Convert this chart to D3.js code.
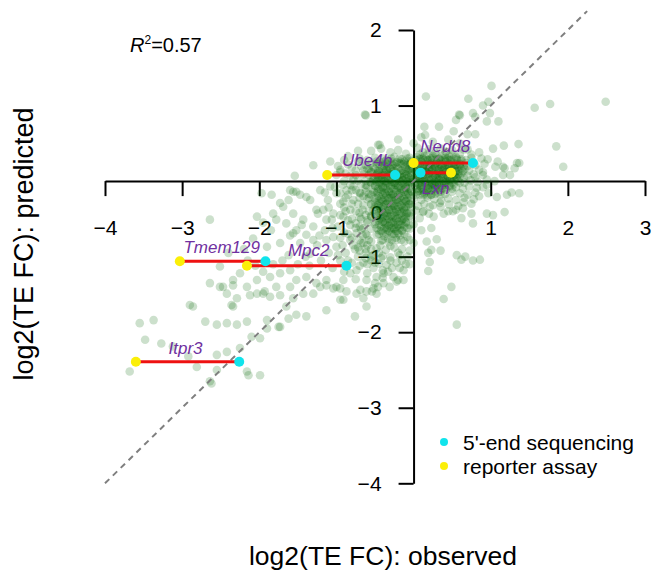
<!DOCTYPE html>
<html>
<head>
<meta charset="utf-8">
<script src="https://cdn.jsdelivr.net/npm/d3@7"></script>
<style>
  body { margin: 0; background: #fff; }
  svg { font-family: "Liberation Sans", Arial, sans-serif; }
  .axis .domain, .axis line { stroke: #000; stroke-width: 2; }
  .axis text { font-size: 21px; fill: #000; font-family: "Liberation Sans", Arial, sans-serif; }
  .gene-label { font-size: 17px; font-style: italic; fill: #7030a0; }
</style>
</head>
<body>
<div id="chart"></div>
<script>
// tick values
const xTicks = [-4, -3, -2, -1, 1, 2, 3];
const yTicks = [-4, -3, -2, -1, 1, 2];

// genes checked by 5'-end sequencing / reporter assay: [observed(seq), observed(reporter), predicted]
const genes = ['Ube4b', 'Nedd8', 'Lxn', 'Tmem129', 'Mpc2', 'Itpr3'];
const seqObserved = [-0.24, 0.77, 0.09, -1.92, -0.87, -2.26];
const reporterObserved = [-1.12, 0.0, 0.485, -3.03, -2.16, -3.6];
const genePredicted = [0.08, 0.24, 0.11, -1.06, -1.12, -2.39];

// scatter points [observed, predicted]
const upperPoints = [
  [1.01,1.26],[0.16,1.12],[0.71,1.09],[-0.62,0.87],[1.57,0.97],[1.77,1.02],[2.49,1.05],[0.90,1.00],
  [0.97,1.05],[0.99,0.90],[0.60,0.87],[0.80,0.85],[0.95,0.79],[1.10,0.79],[0.55,0.81],[0.14,0.72],
  [0.33,0.72],[-0.44,0.48],[1.03,0.43],[1.17,0.47],[1.36,0.49],[1.85,0.46],[0.15,0.61],[0.80,0.62],
  [0.59,0.88],[0.77,0.90],[-0.20,0.55],[0.00,0.50],[0.10,0.58],[0.25,0.52],[0.45,0.55],[0.60,0.50],
  [0.70,0.62],[0.52,0.66],[-1.30,0.21],[-1.08,0.26],[-1.54,0.07],[-0.63,0.88],[-0.46,0.48],
  [-0.95,0.12],[-0.85,0.33],[-0.72,0.40]
];
const rightPoints = [
  [1.94,0.19],[1.37,0.24],[1.16,0.19],[1.25,0.08],[1.16,0.08],[0.96,0.29],[1.09,0.26],[1.06,0.19],
  [1.18,0.17],[1.34,0.24],[1.31,0.17],[1.27,-0.15],[1.37,-0.16],[1.21,-0.18],[1.08,-0.21],[0.97,-0.16],
  [0.95,-0.43],[1.03,-0.45],[1.18,-0.41],[0.77,-0.56],[0.62,-0.49],[0.75,-0.43],[0.64,-0.36],[0.51,-0.40],
  [0.39,-0.43],[0.26,-0.47],[0.13,-0.40],[0.21,-0.34],[0.34,-0.29],[0.23,-0.62],[0.17,-0.80],[0.30,-0.77],
  [0.19,-0.95],[0.23,-0.91],[0.35,-0.92],[0.21,-1.07],[0.19,-1.19],[0.56,-0.98],[0.62,-1.04],[0.67,-1.00],
  [0.77,-1.05],[0.86,-1.04],[0.49,-1.40],[0.39,-1.56],[0.56,-1.90],[-0.05,-0.78],[-0.13,-1.18],[-0.20,-1.31]
];
const leftBandPoints = [
  [-1.97,-0.16],[-1.84,-0.18],[-1.73,-0.29],[-1.62,-0.25],[-1.52,-0.14],[-1.39,-0.21],[-1.21,-0.12],
  [-1.11,-0.25],[-1.17,-0.38],[-1.24,-0.43],[-1.06,-0.51],[-0.95,-0.45],[-2.03,-0.47],[-1.82,-0.43],
  [-2.64,-0.51],[-2.08,-0.76],[-1.90,-0.87],[-1.73,-0.82],[-1.56,-0.69],[-1.47,-0.82],[-1.34,-0.96],
  [-1.30,-0.78],[-1.60,-0.12],[-1.47,-0.18],[-1.34,-0.25],[-1.26,-0.38],[-1.00,-0.16],[-0.91,-0.27],
  [-1.69,-0.34],[-1.56,-0.43],[-1.43,-0.51],[-1.30,-0.60],[-1.52,-0.65],[-1.39,-0.71],[-1.65,-0.56],
  [-1.78,-0.51],[-1.13,-0.51],[-1.04,-0.43],[-0.91,-0.47],[-0.82,-0.38],[-0.78,-0.25],[-0.69,-0.16],
  [-0.87,-0.12],[-1.13,-0.78],[-1.04,-0.74],[-1.00,-0.87],[-0.82,-0.78],[-0.74,-0.69],[-0.65,-0.82],
  [-1.56,-0.14],[-1.08,-0.07],[-0.98,-0.60],[-0.90,-0.68],[-0.82,-0.58],[-0.76,-0.90],[-0.88,-0.95],
  [-0.95,-1.05],[-0.80,-1.08],[-0.72,-1.00],[-0.68,-0.50],[-0.75,-0.40],[-1.10,-0.95],[-1.20,-1.05],
  [-1.05,-1.15],[-0.90,-1.20],[-1.25,-0.85],[-1.40,-1.00],[-1.50,-1.10],[-1.35,-1.12],[-1.62,-0.98],
  [-1.70,-1.05],[-1.82,-1.10],[-1.95,-1.20],[-2.05,-1.12],[-1.15,-0.65],[-1.22,-0.72],[-1.45,-0.58],
  [-1.60,-0.72],[-1.85,-0.65],[-1.95,-0.55],[-2.20,-0.90],[-2.40,-0.95],[-2.15,-1.05],
  [-0.95,-0.30],[-0.88,-0.40],[-0.80,-0.50],[-0.70,-0.60],[-0.62,-0.70],[-0.85,-0.70],[-0.78,-0.85],
  [-0.68,-0.82],[-0.92,-0.85],[-0.98,-0.98],[-0.85,-1.05],[-0.70,-1.12],[-0.60,-1.22],[-0.75,-1.30],
  [-0.52,-1.15],[-0.88,-0.22],[-0.80,-0.12],[-0.72,-0.30],
  [-0.62,-0.05],[-0.70,-0.22],[-0.66,-0.38],[-0.60,-0.52],[-0.65,-0.62],[-0.58,-0.78],[-0.55,-0.90],
  [-0.70,-0.92],[-0.62,-1.02],[-0.50,-1.08],[-0.40,-1.18],[-0.28,-1.15],[-0.15,-1.05],[-0.05,-1.10],
  [-0.82,-0.05],[-0.75,0.08],[-0.68,0.20],[-0.60,0.28],[-0.55,0.12]
];
const midLeftPoints = [
  [-2.51,-1.13],[-2.34,-1.31],[-2.51,-1.40],[-2.42,-1.49],[-2.25,-1.22],[-2.16,-1.40],[-2.03,-1.31],
  [-2.29,-1.55],[-2.12,-1.51],[-1.95,-1.49],[-2.64,-1.35],[-2.47,-1.40],[-2.34,-1.38],[-2.03,-1.49],
  [-1.93,-1.46],[-1.86,-1.53],[-1.73,-1.51],[-1.60,-1.40],[-1.56,-1.55],[-1.43,-1.49],[-1.30,-1.49],
  [-1.21,-1.40],[-1.13,-1.38],[-1.04,-1.42],[-0.95,-1.42],[-0.87,-1.46],[-0.95,-1.57],[-0.74,-1.49],
  [-0.61,-1.46],[-0.52,-1.42],[-0.39,-1.35],[-0.22,-1.33],[-1.86,-1.27],[-1.73,-1.22],[-1.60,-1.18],
  [-1.78,-1.40],[-1.52,-1.31],[-1.39,-1.27],[-1.26,-1.35],[-1.13,-1.31],[-1.00,-1.40],[-0.91,-1.31],
  [-0.82,-1.22],[-0.74,-1.18],[-0.61,-1.31],[-0.48,-1.27],[-0.39,-1.22],[-0.26,-1.27],[-0.31,-1.40],
  [-0.13,-1.31],[-0.69,-1.44],[-0.48,-1.49],[-0.33,-1.20],[-0.46,-1.40],[-0.54,-1.46],[-0.65,-1.55],
  [-0.91,-1.57],[-0.61,-1.66]
];
const lowerLeftPoints = [
  [-2.86,-1.66],[-2.34,-1.66],[-3.55,-1.88],[-3.37,-1.84],[-2.55,-1.90],[-2.42,-1.88],[-2.29,-1.90],
  [-2.16,-1.86],[-1.90,-1.84],[-1.73,-1.93],[-1.52,-1.77],[-1.39,-1.79],[-1.65,-1.66],[-3.27,-2.15],
  [-3.12,-2.19],[-2.55,-2.30],[-2.42,-2.26],[-2.25,-2.21],[-3.68,-2.52],[-2.16,-2.52],[-1.99,-2.57],
  [-3.48,-2.10],[-2.90,-1.64],[-2.70,-1.86],[-2.36,-1.64],[-2.10,-2.06],[-1.99,-2.08],[-1.90,-1.95],
  [-1.75,-1.93],[-1.62,-1.82],[-1.13,-1.71],[-0.76,-1.79],[-2.81,-2.46],[-2.55,-2.50],[-2.14,-2.57],
  [-2.64,-2.65],[-2.92,-2.32],[-2.62,-2.68]
];
const corePoints = [
  [-0.55,0.4],[-0.42,0.43],[-0.3,0.38],[-0.2,0.41],[-0.1,0.36],[0.05,0.44],[0.12,0.38],[0.2,0.42],[0.28,0.37],
  [0.35,0.43],[0.42,0.39],[0.5,0.41],[0.6,0.36],[0.7,0.42],[0.85,0.38],
  [-0.7,0.3],[-0.5,0.31],[-0.35,0.28],[-0.25,0.32],[-0.15,0.29],[-0.05,0.31],[0.08,0.3],[0.18,0.28],[0.25,0.33],
  [0.33,0.29],[0.41,0.31],[0.48,0.28],[0.55,0.32],[0.62,0.29],[0.75,0.31],[0.88,0.3],
  [-0.85,0.22],[-0.62,0.21],[-0.48,0.23],[-0.38,0.2],[-0.28,0.22],[-0.18,0.24],[-0.08,0.21],[0.03,0.23],[0.14,0.2],
  [0.22,0.22],[0.3,0.24],[0.38,0.21],[0.46,0.23],[0.53,0.2],[0.6,0.22],[0.68,0.24],[0.8,0.21],[0.92,0.23],
  [-0.95,0.15],[-0.75,0.14],[-0.58,0.16],[-0.45,0.13],[-0.35,0.15],[-0.26,0.17],[-0.16,0.14],[-0.06,0.16],[0.06,0.15],
  [0.16,0.13],[0.24,0.16],[0.32,0.14],[0.4,0.17],[0.5,0.15],[0.58,0.13],[0.66,0.16],[0.72,0.14],[0.85,0.15],
  [-1.0,0.08],[-0.82,0.07],[-0.65,0.09],[-0.52,0.06],[-0.42,0.08],[-0.32,0.1],[-0.2,0.07],[-0.1,0.09],[0.02,0.06],
  [0.12,0.08],[0.2,0.1],[0.28,0.07],[0.36,0.09],[0.44,0.06],[0.54,0.08],[0.62,0.1],[0.7,0.07],[0.78,0.09],[0.9,0.08],
  [-0.9,0.0],[-0.72,0.01],[-0.56,-0.01],[-0.46,0.02],[-0.36,0.0],[-0.25,-0.02],[-0.14,0.01],[-0.04,-0.01],[0.06,0.02],
  [0.15,0.0],[0.24,-0.02],[0.33,0.01],[0.42,-0.01],[0.5,0.02],[0.58,0.0],[0.66,-0.02],[0.74,0.01],[0.83,-0.01],
  [0.95,0.02],[1.05,0.0],
  [-1.02,-0.08],[-0.78,-0.07],[-0.62,-0.09],[-0.5,-0.06],[-0.4,-0.08],[-0.3,-0.1],[-0.2,-0.07],[-0.1,-0.09],
  [0.02,-0.06],[0.1,-0.08],[0.19,-0.1],[0.28,-0.07],[0.37,-0.09],[0.46,-0.06],[0.55,-0.08],[0.64,-0.1],[0.72,-0.07],
  [0.82,-0.09],[0.9,-0.08],
  [-0.95,-0.16],[-0.7,-0.15],[-0.58,-0.17],[-0.47,-0.14],[-0.37,-0.16],[-0.27,-0.18],[-0.17,-0.15],[-0.07,-0.17],
  [0.05,-0.14],[0.14,-0.16],[0.23,-0.18],[0.32,-0.15],[0.41,-0.17],[0.5,-0.14],[0.6,-0.16],[0.7,-0.18],[0.8,-0.15],
  [-0.6,-0.24],[-0.5,-0.23],[-0.4,-0.25],[-0.3,-0.22],[-0.2,-0.24],[-0.1,-0.26],[0.0,-0.23],[0.1,-0.25],[0.18,-0.22],
  [0.27,-0.24],[0.36,-0.26],[0.45,-0.23],[0.55,-0.25],[0.66,-0.22],[0.78,-0.24],
  [-0.65,-0.32],[-0.55,-0.31],[-0.45,-0.33],[-0.35,-0.3],[-0.25,-0.32],[-0.15,-0.34],[-0.05,-0.31],[0.06,-0.33],
  [0.14,-0.3],[0.25,-0.32],[0.35,-0.34],[0.46,-0.31],[0.58,-0.33],
  [-0.58,-0.4],[-0.48,-0.39],[-0.38,-0.41],[-0.28,-0.38],[-0.18,-0.4],[-0.08,-0.42],[0.03,-0.39],[0.12,-0.41],[0.2,-0.43],
  [-0.7,-0.48],[-0.55,-0.47],[-0.44,-0.49],[-0.34,-0.46],[-0.24,-0.48],[-0.14,-0.5],[-0.04,-0.47],[0.08,-0.49],
  [-0.75,-0.56],[-0.6,-0.55],[-0.5,-0.57],[-0.4,-0.54],[-0.3,-0.56],[-0.2,-0.58],[-0.1,-0.55],[0.0,-0.57],
  [-0.68,-0.64],[-0.55,-0.63],[-0.45,-0.65],[-0.35,-0.62],[-0.25,-0.64],[-0.15,-0.66],[-0.05,-0.63],[0.1,-0.65],
  [-0.6,-0.72],[-0.48,-0.71],[-0.38,-0.73],[-0.28,-0.7],[-0.18,-0.72],[-0.08,-0.74],
  [-0.55,-0.8],[-0.42,-0.79],[-0.32,-0.81],[-0.22,-0.78],[-0.12,-0.8],[0.0,-0.82],
  [-0.62,-0.9],[-0.48,-0.89],[-0.36,-0.91],[-0.25,-0.88],[-0.15,-0.9],[-0.05,-0.92],
  [-0.55,-1.0],[-0.4,-0.99],[-0.3,-1.01],[-0.18,-0.98],[-0.08,-1.0],
  [-0.6,-1.1],[-0.45,-1.09],[-0.35,-1.11],[-0.22,-1.08],[-0.1,-1.1]
];
const denseCorePoints = [
  [-0.44,0.26],[-0.33,0.27],[-0.22,0.25],[-0.12,0.26],[-0.03,0.27],
  [-0.52,0.18],[-0.41,0.19],[-0.31,0.17],[-0.21,0.18],[-0.11,0.19],[-0.02,0.17],
  [-0.47,0.1],[-0.37,0.11],[-0.27,0.09],[-0.15,0.1],[-0.05,0.11],
  [-0.52,0.03],[-0.41,0.04],[-0.3,0.02],[-0.19,0.03],[-0.09,0.04],[-0.01,0.02],
  [-0.45,-0.04],[-0.35,-0.03],[-0.24,-0.05],[-0.14,-0.04],[-0.05,-0.03],
  [-0.52,-0.12],[-0.42,-0.11],[-0.32,-0.13],[-0.22,-0.12],[-0.12,-0.11],[-0.03,-0.13],
  [-0.45,-0.2],[-0.35,-0.19],[-0.25,-0.21],[-0.15,-0.2],[-0.05,-0.19],
  [-0.5,-0.28],[-0.4,-0.27],[-0.3,-0.29],[-0.2,-0.28],[-0.1,-0.27],
  [-0.43,-0.36],[-0.33,-0.35],[-0.23,-0.37],[-0.13,-0.36],[-0.03,-0.35],
  [-0.5,-0.44],[-0.39,-0.43],[-0.29,-0.45],[-0.19,-0.44],[-0.09,-0.43],
  [-0.45,-0.52],[-0.35,-0.51],[-0.25,-0.53],[-0.15,-0.52],
  [-0.42,-0.6],[-0.32,-0.59],[-0.22,-0.61],[-0.12,-0.6],
  [-0.4,-0.68],[-0.3,-0.67],[-0.2,-0.69],
  [0.04,0.32],[0.14,0.33],[0.24,0.31],[0.36,0.32],[0.46,0.33],
  [0.0,0.25],[0.1,0.26],[0.2,0.24],[0.3,0.25],[0.42,0.26],[0.52,0.24],
  [0.04,0.18],[0.12,0.19],[0.2,0.17],[0.28,0.18],[0.36,0.19],[0.46,0.17],[0.56,0.18],
  [0.07,0.11],[0.16,0.12],[0.25,0.1],[0.34,0.11],[0.42,0.12],[0.5,0.1],
  [0.03,0.04],[0.1,0.05],[0.2,0.03],[0.3,0.04],[0.38,0.05],[0.48,0.03],[0.56,0.04],
  [0.06,-0.03],[0.15,-0.02],[0.24,-0.04],[0.33,-0.03],[0.42,-0.02],[0.52,-0.04],
  [0.04,-0.1],[0.12,-0.11],[0.22,-0.09],[0.32,-0.1],[0.42,-0.11],
  [0.08,-0.18],[0.18,-0.19],[0.28,-0.17]
];
const darkestCorePoints = [
  [-0.38,0.22],[-0.27,0.21],[-0.17,0.23],[-0.07,0.22],
  [-0.46,0.14],[-0.36,0.15],[-0.26,0.13],[-0.16,0.14],[-0.06,0.15],
  [-0.42,0.06],[-0.32,0.07],[-0.22,0.05],[-0.12,0.06],[-0.03,0.07],
  [-0.48,-0.01],[-0.38,0.0],[-0.28,-0.01],[-0.18,0.0],[-0.08,-0.01],
  [-0.4,-0.08],[-0.3,-0.07],[-0.2,-0.09],[-0.1,-0.08],
  [-0.47,-0.16],[-0.37,-0.15],[-0.27,-0.17],[-0.17,-0.16],[-0.07,-0.15],
  [-0.42,-0.24],[-0.32,-0.23],[-0.22,-0.25],[-0.12,-0.24],
  [-0.46,-0.32],[-0.36,-0.31],[-0.26,-0.33],[-0.16,-0.32],[-0.06,-0.31],
  [-0.42,-0.4],[-0.32,-0.39],[-0.22,-0.41],[-0.12,-0.4],
  [-0.4,-0.48],[-0.3,-0.47],[-0.2,-0.49],[-0.1,-0.48],
  [-0.37,-0.56],[-0.27,-0.55],[-0.17,-0.57],
  [-0.35,-0.64],[-0.25,-0.63],[-0.15,-0.65],
  [-0.33,-0.76],[-0.23,-0.75],[-0.43,-0.85],[-0.3,-0.86],[-0.2,-0.95],[-0.45,-0.95],
  [0.09,0.29],[0.19,0.28],[0.3,0.29],[0.41,0.28],[0.52,0.3],[0.62,0.27],
  [0.05,0.21],[0.15,0.22],[0.25,0.21],[0.35,0.22],[0.45,0.21],[0.55,0.22],[0.65,0.2],
  [0.1,0.14],[0.2,0.15],[0.3,0.14],[0.38,0.15],[0.47,0.14],[0.55,0.13],
  [0.07,0.07],[0.15,0.08],[0.25,0.07],[0.33,0.06],[0.43,0.08],[0.52,0.07],[0.6,0.06],
  [0.1,0.0],[0.2,0.01],[0.28,-0.01],[0.38,0.0],[0.47,0.01],
  [0.08,-0.06],[0.18,-0.07],[0.27,-0.05],[0.37,-0.06],[0.47,-0.07],
  [0.13,-0.14],[0.23,-0.13],[0.35,-0.14]
];
const leftLobePoints = [
  [-0.4,0.3],[-0.29,0.3],[-0.18,0.3],[-0.08,0.3],
  [-0.56,0.23],[-0.45,0.23],[-0.34,0.23],[-0.24,0.23],[-0.13,0.23],[-0.04,0.23],
  [-0.6,0.16],[-0.5,0.16],[-0.4,0.16],[-0.3,0.16],[-0.2,0.16],[-0.1,0.16],[0.0,0.16],
  [-0.58,0.08],[-0.48,0.08],[-0.38,0.08],[-0.28,0.08],[-0.18,0.08],[-0.08,0.08],
  [-0.62,0.01],[-0.52,0.01],[-0.42,0.01],[-0.33,0.01],[-0.23,0.01],[-0.13,0.01],[-0.04,0.01],
  [-0.6,-0.06],[-0.5,-0.06],[-0.4,-0.06],[-0.3,-0.06],[-0.2,-0.06],[-0.1,-0.06],
  [-0.62,-0.14],[-0.52,-0.14],[-0.42,-0.14],[-0.32,-0.14],[-0.22,-0.14],[-0.12,-0.14],[-0.02,-0.14],
  [-0.58,-0.22],[-0.48,-0.22],[-0.38,-0.22],[-0.28,-0.22],[-0.18,-0.22],[-0.08,-0.22],
  [-0.55,-0.3],[-0.45,-0.3],[-0.35,-0.3],[-0.25,-0.3],[-0.15,-0.3],[-0.05,-0.3],
  [-0.52,-0.38],[-0.42,-0.38],[-0.32,-0.38],[-0.22,-0.38],[-0.12,-0.38],
  [-0.55,-0.46],[-0.45,-0.46],[-0.35,-0.46],[-0.25,-0.46],[-0.15,-0.46],[-0.05,-0.46],
  [-0.5,-0.54],[-0.4,-0.54],[-0.3,-0.54],[-0.2,-0.54],[-0.1,-0.54],
  [-0.48,-0.62],[-0.38,-0.62],[-0.28,-0.62],[-0.18,-0.62],[-0.08,-0.62],
  [-0.45,-0.7],[-0.35,-0.7],[-0.25,-0.7],[-0.12,-0.7],
  [-0.4,-0.78],[-0.28,-0.78],[-0.16,-0.78],
  [-0.48,0.26],[-0.38,0.26],[-0.28,0.26],[-0.17,0.26],[-0.07,0.26],
  [-0.55,0.12],[-0.44,0.12],[-0.33,0.12],[-0.23,0.12],[-0.12,0.12],[-0.02,0.12],
  [-0.46,0.05],[-0.36,0.05],[-0.26,0.05],[-0.15,0.05],[-0.06,0.05],
  [-0.55,-0.02],[-0.44,-0.02],[-0.34,-0.02],[-0.24,-0.02],[-0.14,-0.02],[-0.03,-0.02],
  [-0.46,-0.1],[-0.36,-0.1],[-0.26,-0.1],[-0.16,-0.1],[-0.06,-0.1],
  [-0.55,-0.18],[-0.4,-0.18],[-0.3,-0.18],[-0.2,-0.18],[-0.1,-0.18],
  [-0.45,-0.26],[-0.35,-0.26],[-0.25,-0.26],[-0.15,-0.26],[-0.05,-0.26],
  [-0.5,-0.34],[-0.4,-0.34],[-0.3,-0.34],[-0.2,-0.34],[-0.1,-0.34],
  [-0.45,-0.42],[-0.35,-0.42],[-0.25,-0.42],[-0.15,-0.42],[-0.05,-0.42],
  [-0.42,-0.5],[-0.32,-0.5],[-0.22,-0.5],[-0.12,-0.5],
  [-0.45,-0.58],[-0.35,-0.58],[-0.25,-0.58],[-0.15,-0.58],[-0.05,-0.58],
  [-0.42,-0.66],[-0.32,-0.66],[-0.22,-0.66]
];
const rightLobePoints = [
  [0.08,0.35],[0.18,0.35],[0.29,0.35],[0.4,0.35],[0.5,0.35],
  [0.03,0.28],[0.14,0.28],[0.24,0.28],[0.35,0.28],[0.46,0.28],[0.57,0.28],[0.68,0.28],
  [0.08,0.2],[0.18,0.2],[0.28,0.2],[0.4,0.2],[0.5,0.2],[0.6,0.2],[0.7,0.2],
  [0.03,0.13],[0.12,0.13],[0.22,0.13],[0.33,0.13],[0.44,0.13],[0.54,0.13],[0.64,0.13],
  [0.05,0.05],[0.15,0.05],[0.25,0.05],[0.35,0.05],[0.45,0.05],[0.55,0.05],[0.65,0.05],
  [0.02,-0.02],[0.1,-0.02],[0.2,-0.02],[0.3,-0.02],[0.4,-0.02],[0.5,-0.02],[0.6,-0.02],
  [0.08,-0.1],[0.18,-0.1],[0.28,-0.1],[0.38,-0.1],[0.5,-0.1],
  [0.03,-0.18],[0.13,-0.18],[0.23,-0.18],[0.35,-0.18],
  [0.12,0.3],[0.22,0.3],[0.33,0.3],[0.44,0.3],[0.56,0.3],
  [0.08,0.23],[0.18,0.23],[0.28,0.23],[0.38,0.23],[0.49,0.23],[0.6,0.23],
  [0.14,0.16],[0.24,0.16],[0.34,0.16],[0.44,0.16],[0.54,0.16],[0.62,0.16],
  [0.1,0.09],[0.2,0.09],[0.3,0.09],[0.4,0.09],[0.5,0.09],[0.58,0.09],
  [0.13,0.02],[0.23,0.02],[0.33,0.02],[0.43,0.02],[0.53,0.02],
  [0.1,-0.05],[0.2,-0.05],[0.3,-0.05],[0.4,-0.05],
  [0.07,-0.13],[0.17,-0.13],[0.27,-0.13]
];
const coreFringePoints = [
  [-0.98,0.2],[-0.9,0.28],[-0.8,0.18],[-0.72,0.26],[-0.65,0.14],[-0.88,0.1],[-0.78,0.02],[-0.68,-0.04],
  [-0.92,-0.05],[-0.85,-0.18],[-0.75,-0.12],[-0.65,-0.2],[-0.9,-0.35],[-0.8,-0.3],[-0.7,-0.42],[-0.62,-0.45],
  [-0.85,-0.52],[-0.75,-0.62],[-0.66,-0.72],[-0.8,-0.75],[-0.7,-0.78],[-0.6,-0.85],[-0.72,-0.88],[-0.62,-0.95],
  [-0.52,-0.98],[-0.65,-1.08],[-0.55,-1.05],[-0.42,-1.02],[-0.3,-1.05],[-0.18,-1.15],[-0.4,-1.28],[-0.5,-1.35],
  [-0.95,-0.75],[-1.05,-0.62],[-1.1,-0.35],[-1.15,-0.15],[0.75,-0.3],[0.85,-0.2],[0.65,-0.28],[0.55,-0.38],
  [0.45,-0.4],[0.9,0.12],[0.8,0.05],[0.95,-0.05],[0.75,0.35],[0.65,0.42]
];

const width = 655, height = 580;
const x = d3.scaleLinear().domain([-4, 3]).range([105, 645]);
const y = d3.scaleLinear().domain([-4, 2]).range([483.3, 30]);

const svg = d3.select('#chart')
  .append('svg')
  .attr('width', width)
  .attr('height', height)
  .attr('viewBox', `0 0 ${width} ${height}`);

svg.append('rect').attr('width', width).attr('height', height).attr('fill', '#fff');

// axes crossing at the origin
svg.append('g')
  .attr('class', 'axis')
  .attr('transform', `translate(0 ${y(0)})`)
  .call(d3.axisBottom(x).tickValues(xTicks).tickFormat(d3.format('d'))
    .tickSizeInner(15).tickSizeOuter(0).tickPadding(24));

svg.append('g')
  .attr('class', 'axis')
  .attr('transform', `translate(${x(0)} 0)`)
  .call(d3.axisLeft(y).tickValues(yTicks).tickFormat(d3.format('d'))
    .tickSizeInner(15).tickSizeOuter(0).tickPadding(17));

// the single "0" placed in the lower-left quadrant of the origin
svg.append('text')
  .attr('x', x(0) - 37)
  .attr('y', y(0) + 39)
  .attr('text-anchor', 'middle')
  .attr('font-size', 21)
  .text('0');

// scatter
const allPoints = [].concat(upperPoints, rightPoints, leftBandPoints, midLeftPoints,
  lowerLeftPoints, corePoints, denseCorePoints, darkestCorePoints, leftLobePoints,
  rightLobePoints, coreFringePoints);

svg.append('g')
  .selectAll('circle')
  .data(allPoints)
  .join('circle')
  .attr('cx', d => x(d[0]))
  .attr('cy', d => y(d[1]))
  .attr('r', 4.3)
  .attr('fill', '#006400')
  .attr('fill-opacity', 0.2);

// y = x reference
svg.append('line')
  .attr('x1', x(-4)).attr('y1', y(-4))
  .attr('x2', x(2.25)).attr('y2', y(2.25))
  .attr('stroke', '#7f7f7f')
  .attr('stroke-width', 2)
  .attr('stroke-dasharray', '6,5');

// validated genes
const geneData = genes.map((g, i) => ({
  gene: g, seq: seqObserved[i], rep: reporterObserved[i], pred: genePredicted[i]
}));

const gGenes = svg.append('g');
gGenes.selectAll('line')
  .data(geneData)
  .join('line')
  .attr('x1', d => x(d.seq)).attr('x2', d => x(d.rep))
  .attr('y1', d => y(d.pred)).attr('y2', d => y(d.pred))
  .attr('stroke', '#ee1111')
  .attr('stroke-width', 3);

gGenes.selectAll('circle.seq')
  .data(geneData)
  .join('circle')
  .attr('class', 'seq')
  .attr('cx', d => x(d.seq)).attr('cy', d => y(d.pred))
  .attr('r', 5)
  .attr('fill', '#10e4ec');

gGenes.selectAll('circle.rep')
  .data(geneData)
  .join('circle')
  .attr('class', 'rep')
  .attr('cx', d => x(d.rep)).attr('cy', d => y(d.pred))
  .attr('r', 5)
  .attr('fill', '#fbef08');

// label nudges (px) so names sit like the original
const labelShift = { Ube4b: [6, -9], Nedd8: [2, -11], Lxn: [0, 21], Tmem129: [-1, -8], Mpc2: [12, -10], Itpr3: [-2, -8] };
gGenes.selectAll('text')
  .data(geneData)
  .join('text')
  .attr('class', 'gene-label')
  .attr('text-anchor', 'middle')
  .attr('x', d => (x(d.seq) + x(d.rep)) / 2 + labelShift[d.gene][0])
  .attr('y', d => y(d.pred) + labelShift[d.gene][1])
  .text(d => d.gene);

// R squared
const r2 = svg.append('text').attr('x', 130).attr('y', 52).attr('font-size', 20);
r2.append('tspan').attr('font-style', 'italic').text('R');
r2.append('tspan').attr('font-size', 12).attr('dy', -8).text('2');
r2.append('tspan').attr('dy', 8).text('=0.57');

// legend
const legend = svg.append('g').attr('transform', 'translate(444 442)');
[["5'-end sequencing", '#10e4ec'], ['reporter assay', '#fbef08']].forEach((l, i) => {
  legend.append('circle').attr('cx', 0).attr('cy', i * 24).attr('r', 4).attr('fill', l[1]);
  legend.append('text').attr('x', 19).attr('y', i * 24 + 8).attr('font-size', 21).text(l[0]);
});

// axis titles
svg.append('text')
  .attr('x', 383).attr('y', 565)
  .attr('text-anchor', 'middle')
  .attr('font-size', 26.5)
  .text('log2(TE FC): observed');

svg.append('text')
  .attr('transform', 'translate(33 244) rotate(-90)')
  .attr('text-anchor', 'middle')
  .attr('font-size', 27)
  .text('log2(TE FC): predicted');
</script>
</body>
</html>
